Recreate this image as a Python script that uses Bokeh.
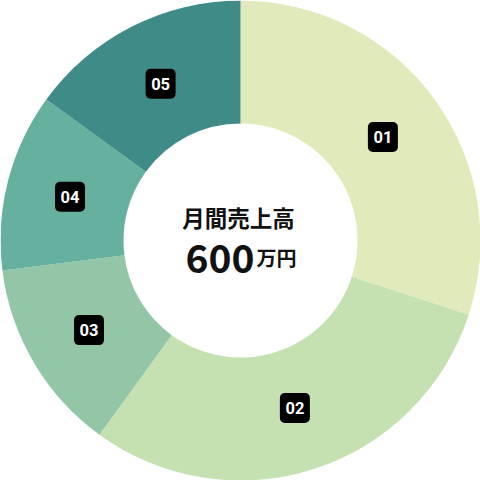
import math
from bokeh.plotting import figure
from bokeh.models import ColumnDataSource
from bokeh.core.properties import value
from bokeh.embed import file_html
from bokeh.resources import INLINE

labels = ["01", "02", "03", "04", "05"]
shares = [30, 30, 13, 12, 15]
colors = ["#e0eabb", "#c5e0b1", "#93c6a6", "#66b0a0", "#3f8b87"]
title_text = "月間売上高"
amount_text = "600"
unit_text = "万円"

SIZE = 480
S = SIZE / 480.0
R_OUT, R_IN, R_LBL = 240, 117, 176

total = float(sum(shares))
starts, ends, lx, ly = [], [], [], []
cum = 0.0
for v in shares:
    a0 = math.pi / 2 - 2 * math.pi * cum / total
    cum += v
    a1 = math.pi / 2 - 2 * math.pi * cum / total
    starts.append(a0)
    ends.append(a1)
    mid = (a0 + a1) / 2
    lx.append(R_LBL * math.cos(mid))
    ly.append(R_LBL * math.sin(mid))

src = ColumnDataSource(dict(start=starts, end=ends, color=colors, lx=lx, ly=ly, label=labels))

p = figure(width=SIZE, height=SIZE, x_range=(-240, 240), y_range=(-240, 240),
           output_backend="svg", toolbar_location=None, min_border=0,
           background_fill_color="white", border_fill_color="white")
p.axis.visible = False
p.grid.visible = False
p.outline_line_color = None

p.annular_wedge(x=0, y=0, inner_radius=R_IN, outer_radius=R_OUT,
                start_angle="start", end_angle="end", direction="clock",
                fill_color="color", line_color=None, source=src)

p.rect(x="lx", y="ly", width=30, height=30, fill_color="black", line_color=None,
       border_radius=5, source=src)
p.text(x="lx", y="ly", text="label", text_color="white", text_font=value("Roboto"),
       text_font_style="bold", text_font_size=f"{16.5*S:.1f}px", text_align="center",
       text_baseline="middle", source=src)

p.text(x=[-2], y=[24], text=[title_text], text_color="#111111",
       text_font=value("Noto Sans CJK JP"), text_font_style="bold",
       text_font_size=f"{22.5*S:.1f}px", text_align="center", text_baseline="middle")
p.text(x=[14], y=[-18], text=[amount_text], text_color="#111111",
       text_font=value("Noto Sans CJK JP"), text_font_style="bold",
       text_font_size=f"{39*S:.1f}px", text_align="right", text_baseline="alphabetic")
p.text(x=[16], y=[-17], text=[unit_text], text_color="#111111",
       text_font=value("Noto Sans CJK JP"), text_font_style="bold",
       text_font_size=f"{20*S:.1f}px", text_align="left", text_baseline="alphabetic")

open("out.html", "w").write(file_html(p, INLINE))
